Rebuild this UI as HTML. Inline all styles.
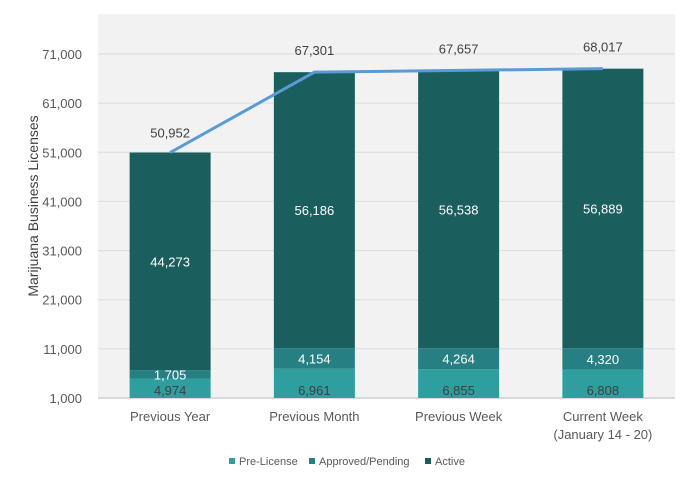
<!DOCTYPE html>
<html><head><meta charset="utf-8"><style>
body{margin:0;background:#fff;font-family:"Liberation Sans",sans-serif;}
svg text{font-family:"Liberation Sans",sans-serif;}
</style></head><body>
<svg width="690" height="481" xmlns="http://www.w3.org/2000/svg" id="chart">
<rect x="98" y="14" width="577" height="384" fill="#f2f2f2"/>
<g id="grid"></g><g id="bars"></g><g id="line"></g><g id="labels"></g>
<text transform="translate(38,206) rotate(-90)" text-anchor="middle" font-size="14" fill="#404040">Marijuana Business Licenses</text>
<g font-size="11" fill="#595959">
<rect x="229" y="458" width="6" height="6" fill="#2e9e9e"/>
<text x="239" y="465">Pre-License</text>
<rect x="309" y="458" width="6" height="6" fill="#267f82"/>
<text x="319" y="465">Approved/Pending</text>
<rect x="425" y="458" width="6" height="6" fill="#1b5e5e"/>
<text x="435" y="465">Active</text>
</g>
</svg>
<script>
const categories=[["Previous Year"],["Previous Month"],["Previous Week"],["Current Week","(January 14 - 20)"]];
const preLicense=[4974,6961,6855,6808];
const approved=[1705,4154,4264,4320];
const active=[44273,56186,56538,56889];
const totals=[50952,67301,67657,68017];
const yTicks=[1000,11000,21000,31000,41000,51000,61000,71000];
const NS="http://www.w3.org/2000/svg";
const y0=398,yPer=344/70000,yMin=1000;
function yS(v){return y0-(v-yMin)*yPer;}
const plotX=98,plotW=577,step=plotW/categories.length,barW=81;
function xC(i){return plotX+step*(i+0.5);}
function mk(tag,attrs,parent,txt){const e=document.createElementNS(NS,tag);for(const k in attrs)e.setAttribute(k,attrs[k]);if(txt!==undefined)e.textContent=txt;document.getElementById(parent).appendChild(e);return e;}
const fmt=v=>v.toLocaleString("en-US");
yTicks.forEach((t,i)=>{
 const l=mk("line",{x1:plotX,x2:plotX+plotW,y1:yS(t),y2:yS(t),stroke:i==0?"#d9d9d9":"#dcdcdc","stroke-width":i==0?2:1},"grid");
 
 
 const tx=mk("text",{x:82,y:yS(t)+5,"text-anchor":"end","font-size":13,fill:"#595959"},"grid",fmt(t));
 
 
});
const series=[[preLicense,"#2e9e9e","#404040"],[approved,"#267f82","#fff"],[active,"#1b5e5e","#fff"]];
categories.forEach((c,i)=>{
 let base=0;
 series.forEach(([arr,col,tc],s)=>{
  const lo=base,hi=base+arr[i];base=hi;
  const yl=lo===0?y0:yS(lo),yh=yS(hi);
  const r=mk("rect",{x:xC(i)-barW/2,y:yh,width:barW,height:yl-yh,fill:col},"bars");
  
  
  let ly=(yl+yh)/2+5;
  if(s==0)ly=Math.max(ly,y0-3);
  const t=mk("text",{x:xC(i),y:ly,"text-anchor":"middle","font-size":13,fill:tc},"labels",fmt(arr[i]));
  
  
 });
 c.forEach((ln,k)=>{
  const t=mk("text",{x:xC(i),y:421+k*18,"text-anchor":"middle","font-size":13,fill:"#595959"},"labels",ln);
  
  
 });
 const tl=mk("text",{x:xC(i),y:yS(totals[i])-17+(i==0?2:0),"text-anchor":"middle","font-size":13,fill:"#404040"},"labels",fmt(totals[i]));
 
 
});
const pl=mk("polyline",{points:totals.map((v,i)=>xC(i)+","+yS(v)).join(" "),fill:"none",stroke:"#5b9bd5","stroke-width":3},"line");


</script>
</body></html>
